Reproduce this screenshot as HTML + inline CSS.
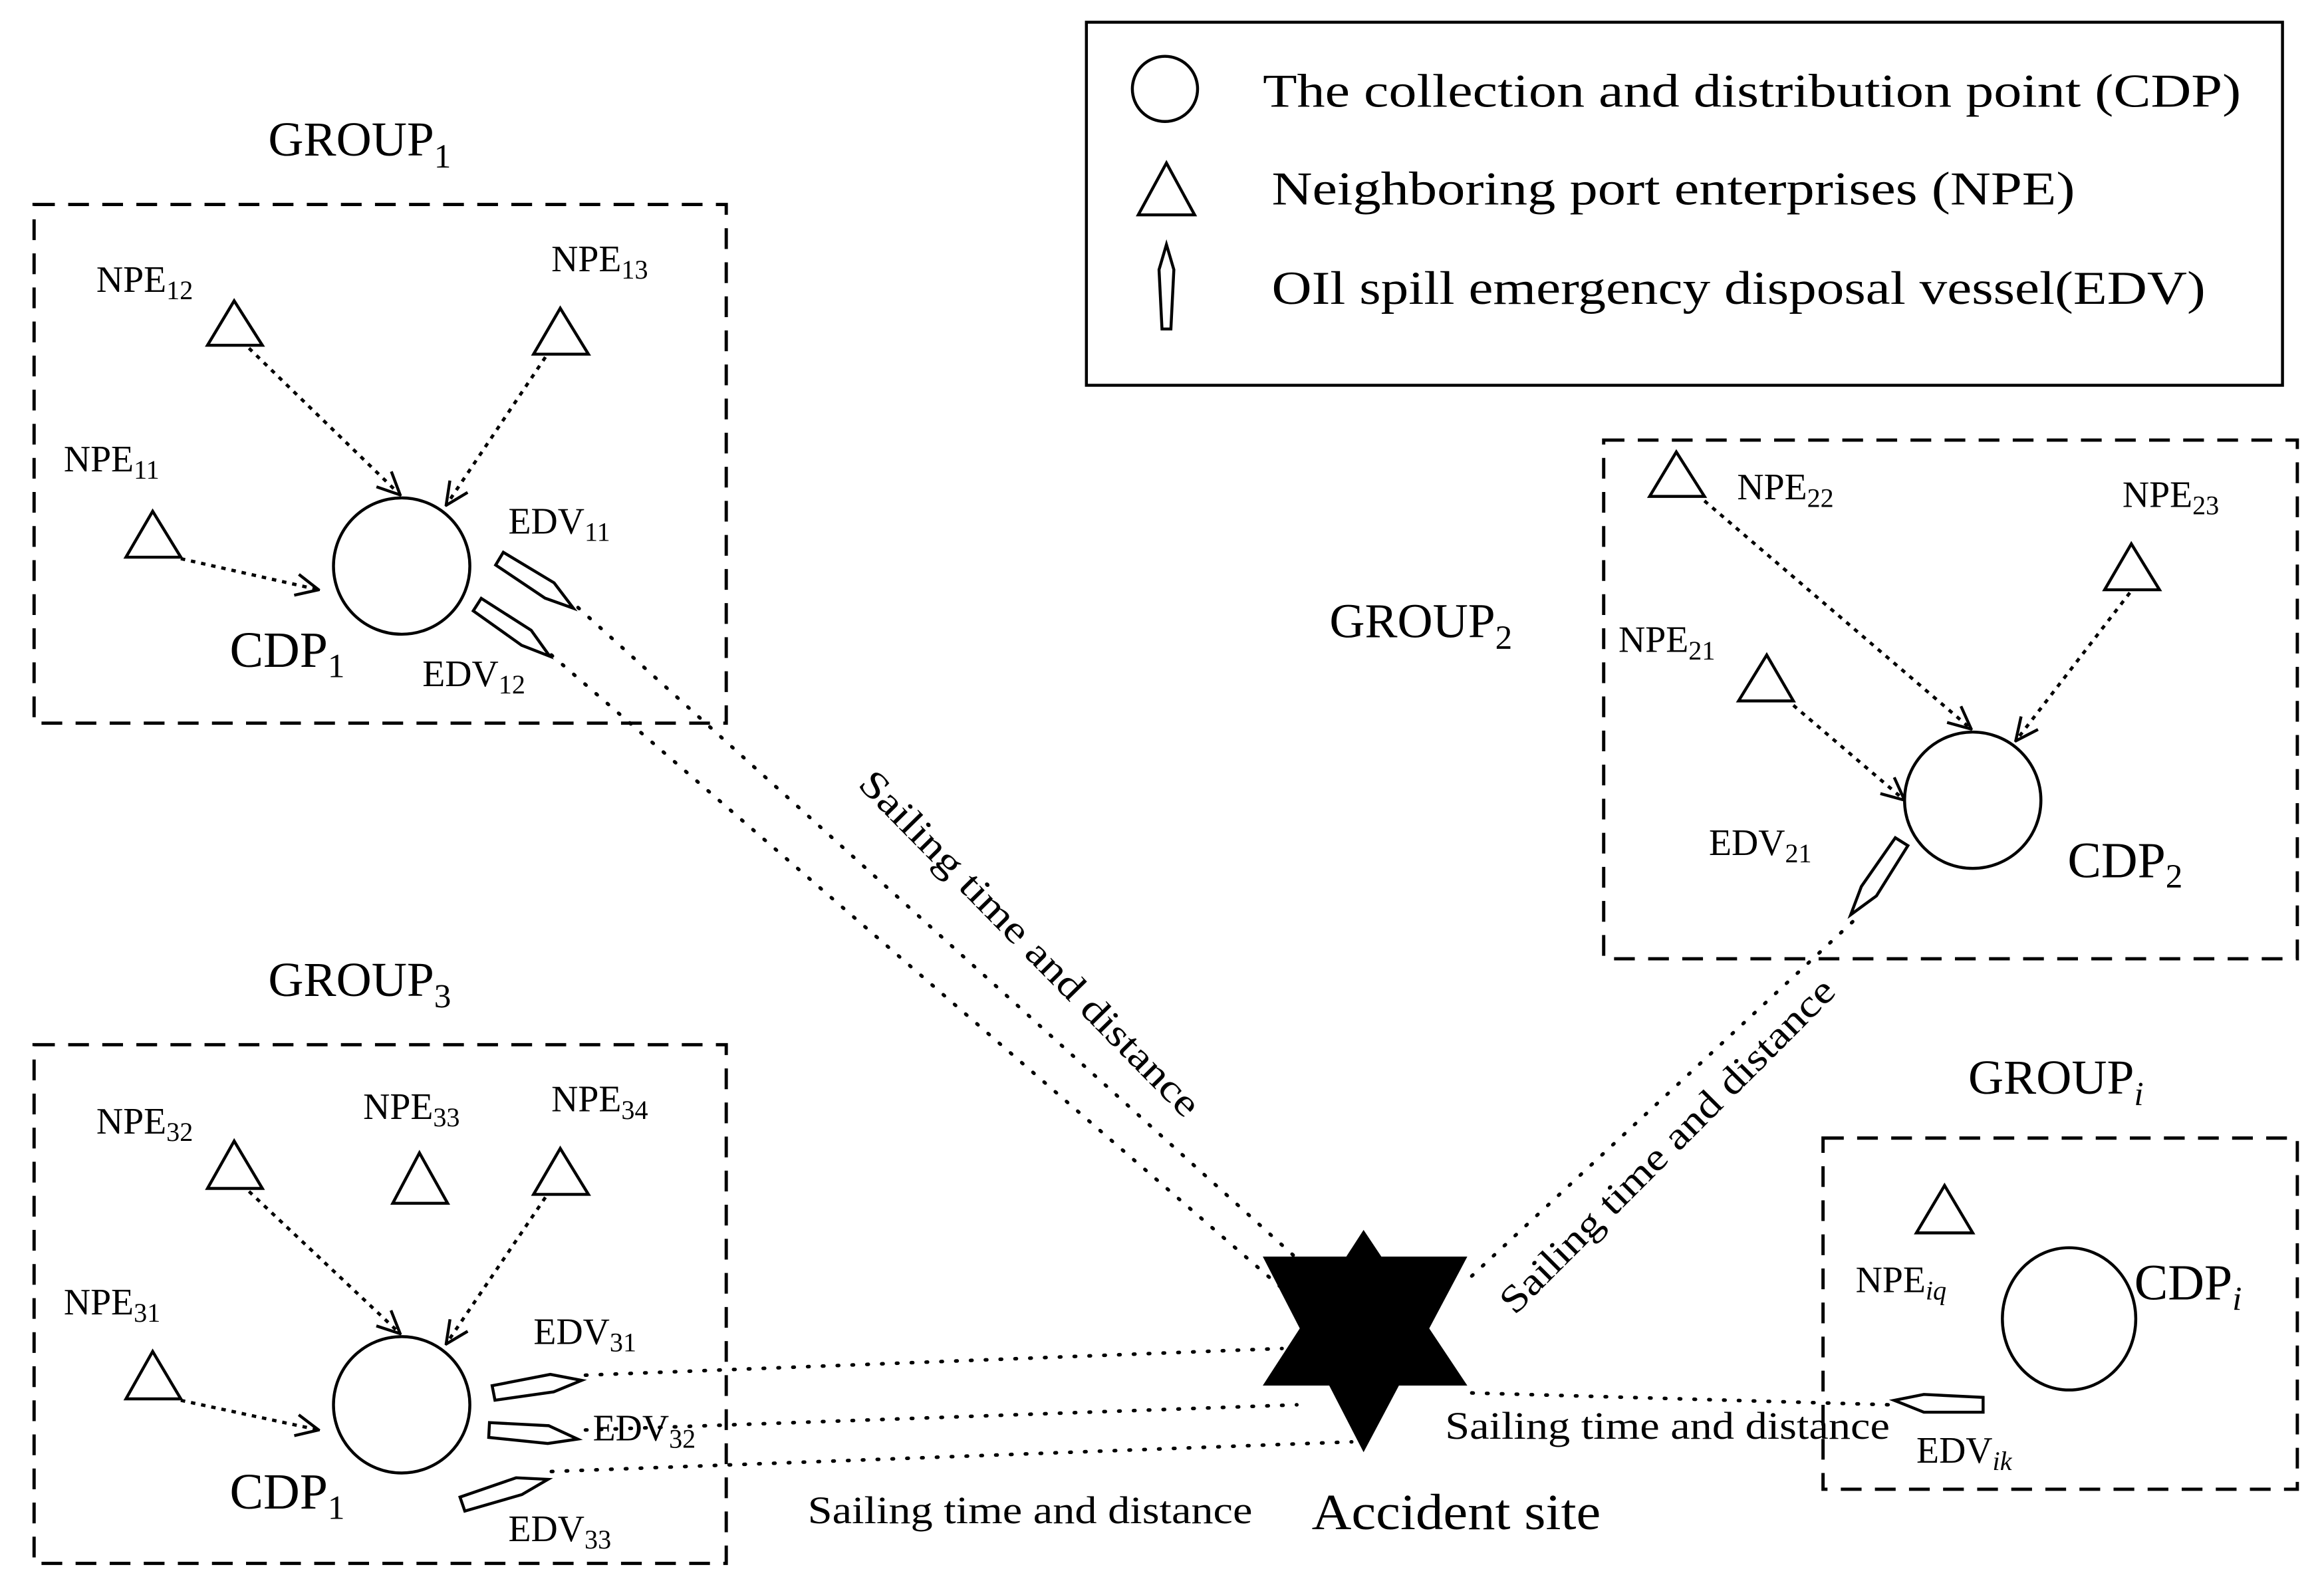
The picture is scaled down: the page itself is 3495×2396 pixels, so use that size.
<!DOCTYPE html>
<html><head><meta charset="utf-8"><style>
html,body{margin:0;padding:0;background:#fff;}
svg{display:block;}
text{font-family:"Liberation Serif",serif;fill:#000;}
</style></head><body>
<svg width="3495" height="2396" viewBox="0 0 1568 1075" preserveAspectRatio="none" xmlns="http://www.w3.org/2000/svg">
<defs>
<marker id="ar" viewBox="0 0 20 20" refX="19" refY="10" markerWidth="18" markerHeight="18" markerUnits="userSpaceOnUse" orient="auto">
<path d="M2,2 L19,10 L2,18" fill="none" stroke="#000" stroke-width="2.2"/>
</marker>
<polygon id="v" points="0,-5 40,-5 60,3 40,7 0,5"/>
</defs>
<rect width="1568" height="1075" fill="#fff"/>

<!-- Legend -->
<rect x="733" y="15" width="807" height="245" fill="none" stroke="#000" stroke-width="2"/>
<circle cx="786" cy="60" r="22" fill="none" stroke="#000" stroke-width="2"/>
<text x="852" y="72" font-size="32" textLength="660" lengthAdjust="spacingAndGlyphs">The collection and distribution point  (CDP)</text>
<polygon points="787,110 768,145 806,145" fill="none" stroke="#000" stroke-width="2"/>
<text x="858" y="138" font-size="32" textLength="542" lengthAdjust="spacingAndGlyphs">Neighboring port enterprises  (NPE)</text>
<polygon points="787,165 792,182 790,222 784,222 782,182" fill="none" stroke="#000" stroke-width="2"/>
<text x="858" y="205" font-size="32" textLength="630" lengthAdjust="spacingAndGlyphs">OIl spill emergency disposal vessel(EDV)</text>

<g fill="none" stroke="#000" stroke-width="2.2" stroke-dasharray="14,9">
<rect x="23" y="138" width="467" height="350"/>
<rect x="23" y="705" width="467" height="350"/>
<rect x="1082" y="297" width="468" height="350"/>
<rect x="1230" y="768" width="320" height="237"/>
</g>

<!-- group labels -->
<text x="181" y="105" font-size="33">GROUP<tspan font-size="23" dy="8">1</tspan></text>
<text x="181" y="672" font-size="33">GROUP<tspan font-size="23" dy="8">3</tspan></text>
<text x="897" y="430" font-size="33">GROUP<tspan font-size="23" dy="8">2</tspan></text>
<text x="1328" y="738" font-size="33">GROUP<tspan font-size="23" dy="8" font-style="italic">i</tspan></text>

<g fill="none" stroke="#000" stroke-width="2">
<polygon points="158,203 140,233 177,233"/>
<polygon points="378,208 360,239 397,239"/>
<polygon points="103,345 85,376 122,376"/>
<polygon points="158,770 140,802 177,802"/>
<polygon points="283,778 265,812 302,812"/>
<polygon points="378,775 360,806 397,806"/>
<polygon points="103,912 85,944 122,944"/>
<polygon points="1131,305 1113,335 1150,335"/>
<polygon points="1438,367 1420,398 1457,398"/>
<polygon points="1192,442 1173,473 1210,473"/>
<polygon points="1312,800 1293,832 1331,832"/>
<circle cx="271" cy="382" r="46"/>
<circle cx="271" cy="948" r="46"/>
<circle cx="1331" cy="540" r="46"/>
<ellipse cx="1396" cy="890" rx="45" ry="48"/>
<use href="#v" transform="translate(337,377) rotate(31)"/>
<use href="#v" transform="translate(322,408) rotate(32.6)"/>
<use href="#v" transform="translate(333,940) rotate(-11)"/>
<use href="#v" transform="translate(330,965) rotate(3)"/>
<use href="#v" transform="translate(312,1015) rotate(-19)"/>
<use href="#v" transform="translate(1283,568) rotate(122)"/>
<use href="#v" transform="translate(1338,948) rotate(180)"/>
</g>

<g fill="none" stroke="#000" stroke-width="2.2" stroke-dasharray="3,4" marker-end="url(#ar)">
<line x1="122" y1="377" x2="215" y2="398"/>
<line x1="168" y1="235" x2="270" y2="334"/>
<line x1="368" y1="241" x2="301" y2="341"/>
<line x1="122" y1="945" x2="215" y2="965"/>
<line x1="168" y1="804" x2="270" y2="900"/>
<line x1="368" y1="808" x2="301" y2="907"/>
<line x1="1150" y1="338" x2="1330" y2="492"/>
<line x1="1437" y1="400" x2="1360" y2="500"/>
<line x1="1210" y1="476" x2="1285" y2="540"/>
</g>

<g fill="none" stroke="#000" stroke-width="2.4" stroke-dasharray="1,9" stroke-linecap="round">
<line x1="390" y1="410" x2="878" y2="852"/>
<line x1="372" y1="442" x2="868" y2="872"/>
<line x1="395" y1="928" x2="865" y2="910"/>
<line x1="395" y1="965" x2="875" y2="948"/>
<line x1="372" y1="993" x2="912" y2="973"/>
<line x1="1250" y1="622" x2="992" y2="862"/>
<line x1="993" y1="940" x2="1275" y2="948"/>
</g>

<polygon points="920,830 990,935 852,935" fill="#000"/>
<polygon points="852,848 990,848 920,980" fill="#000"/>

<text font-size="26" transform="translate(578,530) rotate(45.5)" textLength="316" lengthAdjust="spacingAndGlyphs">Sailing time and distance</text>
<text font-size="26" transform="translate(1022,888) rotate(-45)" textLength="308" lengthAdjust="spacingAndGlyphs">Sailing time and distance</text>
<text x="545" y="1028" font-size="26" textLength="300" lengthAdjust="spacingAndGlyphs">Sailing time and distance</text>
<text x="975" y="971" font-size="26" textLength="300" lengthAdjust="spacingAndGlyphs">Sailing time and distance</text>
<text x="885" y="1032" font-size="34" textLength="195" lengthAdjust="spacingAndGlyphs">Accident site</text>

<g font-size="25">
<text x="65" y="197">NPE<tspan font-size="18" dy="5">12</tspan></text>
<text x="372" y="183">NPE<tspan font-size="18" dy="5">13</tspan></text>
<text x="43" y="318">NPE<tspan font-size="18" dy="5">11</tspan></text>
<text x="343" y="360">EDV<tspan font-size="18" dy="5">11</tspan></text>
<text x="285" y="463">EDV<tspan font-size="18" dy="5">12</tspan></text>
<text x="65" y="765">NPE<tspan font-size="18" dy="5">32</tspan></text>
<text x="245" y="755">NPE<tspan font-size="18" dy="5">33</tspan></text>
<text x="372" y="750">NPE<tspan font-size="18" dy="5">34</tspan></text>
<text x="43" y="887">NPE<tspan font-size="18" dy="5">31</tspan></text>
<text x="360" y="907">EDV<tspan font-size="18" dy="5">31</tspan></text>
<text x="400" y="972">EDV<tspan font-size="18" dy="5">32</tspan></text>
<text x="343" y="1040">EDV<tspan font-size="18" dy="5">33</tspan></text>
<text x="1172" y="337">NPE<tspan font-size="18" dy="5">22</tspan></text>
<text x="1432" y="342">NPE<tspan font-size="18" dy="5">23</tspan></text>
<text x="1092" y="440">NPE<tspan font-size="18" dy="5">21</tspan></text>
<text x="1153" y="577">EDV<tspan font-size="18" dy="5">21</tspan></text>
<text x="1252" y="872">NPE<tspan font-size="18" dy="5" font-style="italic">iq</tspan></text>
<text x="1293" y="987">EDV<tspan font-size="18" dy="5" font-style="italic">ik</tspan></text>
</g>
<g font-size="34">
<text x="155" y="450">CDP<tspan font-size="23" dy="7">1</tspan></text>
<text x="155" y="1018">CDP<tspan font-size="23" dy="7">1</tspan></text>
<text x="1395" y="592">CDP<tspan font-size="23" dy="7">2</tspan></text>
<text x="1440" y="877">CDP<tspan font-size="23" dy="7" font-style="italic">i</tspan></text>
</g>
</svg>
</body></html>
